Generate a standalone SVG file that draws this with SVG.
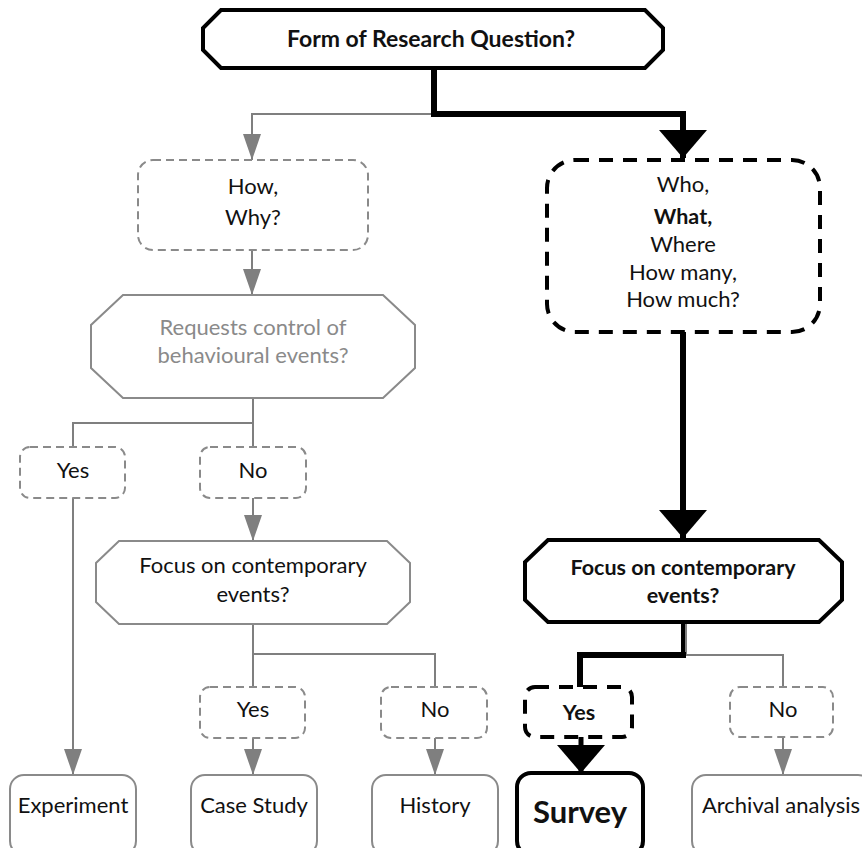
<svg xmlns="http://www.w3.org/2000/svg" width="862" height="848" viewBox="0 0 862 848">
  <defs>
    <marker id="arrowGray" markerUnits="userSpaceOnUse" markerWidth="26" markerHeight="18" viewBox="0 0 26 18" refX="26" refY="9" orient="auto">
      <path d="M0,0 L26,9 L0,18 Z" fill="#7f7f7f"/>
    </marker>
    <marker id="arrowBlack" markerUnits="userSpaceOnUse" markerWidth="28" markerHeight="48" viewBox="0 0 28 48" refX="28" refY="24" orient="auto">
      <path d="M0,0 L28,24 L0,48 Z" fill="#000"/>
    </marker>
  </defs>
  <style>
    text { font-family: Lato, "Open Sans", "Liberation Sans", sans-serif; font-size: 22px; fill: #111; text-anchor: middle; }
    .b { font-weight: bold; font-size: 21.5px; }
    .title { font-weight: bold; font-size: 23px; }
    .muted { fill: #8a8a8a; }
    .big { font-size: 31px; font-weight: bold; }
    .g-line { fill: none; stroke: #7f7f7f; stroke-width: 2; }
    .k-line { fill: none; stroke: #000; stroke-width: 6; }
    .g-dash { fill: #fff; stroke: #8a8a8a; stroke-width: 2; stroke-dasharray: 8 5; }
    .k-dash { fill: #fff; stroke: #000; stroke-width: 4; stroke-dasharray: 14 10; }
    .g-box { fill: #fff; stroke: #8a8a8a; stroke-width: 2; }
    .k-box { fill: #fff; stroke: #000; stroke-width: 4; }
  </style>
  <rect width="862" height="848" fill="#fff"/>

  <!-- connectors -->
  <g id="connectors">
    <path class="g-line" d="M434,114 H252 V160" marker-end="url(#arrowGray)"/>
    <path class="g-line" d="M252,250 V295" marker-end="url(#arrowGray)"/>
    <path class="g-line" d="M253,398 V447 M253,423 H73 V447"/>
    <path class="g-line" d="M73,498 V775" marker-end="url(#arrowGray)"/>
    <path class="g-line" d="M253,498 V541" marker-end="url(#arrowGray)"/>
    <path class="g-line" d="M253,624 V687 M253,654 H435 V687"/>
    <path class="g-line" d="M253,738 V775" marker-end="url(#arrowGray)"/>
    <path class="g-line" d="M435,738 V775" marker-end="url(#arrowGray)"/>
    <path class="g-line" d="M686,622 V655 H783 V687"/>
    <path class="g-line" d="M783,737 V775" marker-end="url(#arrowGray)"/>
    <path class="k-line" d="M434,68 V114 H683 V158" marker-end="url(#arrowBlack)"/>
    <path class="k-line" d="M683,332 V538" marker-end="url(#arrowBlack)"/>
    <path fill="none" stroke="#000" stroke-width="4" d="M683,622 V655"/>
    <path class="k-line" d="M686,655 H580 V687"/>
    <path fill="none" stroke="#000" stroke-width="5" d="M581,737 V773" marker-end="url(#arrowBlack)"/>
  </g>

  <g id="form-question">
    <path class="k-box" d="M221,10 H645 L663,28 V50 L645,68 H221 L203,50 V28 Z"/>
    <text class="title" x="431" y="47">Form of Research Question?</text>
  </g>

  <g id="how-why">
    <rect class="g-dash" x="138" y="160" width="230" height="90" rx="15"/>
    <text x="253" y="194">How,</text>
    <text x="253" y="225">Why?</text>
  </g>

  <g id="who-what">
    <rect class="k-dash" x="547" y="160" width="273" height="172" rx="28"/>
    <text x="683" y="192">Who,</text>
    <text class="b" x="683" y="224">What,</text>
    <text x="683" y="252">Where</text>
    <text x="683" y="280">How many,</text>
    <text x="683" y="307">How much?</text>
  </g>

  <g id="control-question">
    <path class="g-box" d="M123,295 H383 L415,325 V368 L383,398 H123 L91,368 V325 Z"/>
    <text class="muted" x="253" y="335">Requests control of</text>
    <text class="muted" x="253" y="363">behavioural events?</text>
  </g>

  <g id="control-yes">
    <rect class="g-dash" x="20" y="447" width="105" height="51" rx="10"/>
    <text x="73" y="478">Yes</text>
  </g>

  <g id="control-no">
    <rect class="g-dash" x="200" y="447" width="106" height="51" rx="10"/>
    <text x="253" y="478">No</text>
  </g>

  <g id="contemporary-left">
    <path class="g-box" d="M119,541 H387 L410,563 V602 L387,624 H119 L96,602 V563 Z"/>
    <text x="253" y="573">Focus on contemporary</text>
    <text x="253" y="602">events?</text>
  </g>

  <g id="contemporary-right">
    <path class="k-box" d="M548,540 H819 L842,562 V600 L819,622 H548 L525,600 V562 Z"/>
    <text class="b" x="683" y="575">Focus on contemporary</text>
    <text class="b" x="683" y="603">events?</text>
  </g>

  <g id="left-yes">
    <rect class="g-dash" x="200" y="687" width="105" height="51" rx="10"/>
    <text x="253" y="717">Yes</text>
  </g>

  <g id="left-no">
    <rect class="g-dash" x="381" y="687" width="106" height="51" rx="10"/>
    <text x="435" y="717">No</text>
  </g>

  <g id="right-yes">
    <rect class="k-dash" x="525" y="687" width="107" height="50" rx="10"/>
    <text class="b" x="579" y="720">Yes</text>
  </g>

  <g id="right-no">
    <rect class="g-dash" x="730" y="687" width="103" height="50" rx="10"/>
    <text x="783" y="717">No</text>
  </g>

  <g id="experiment">
    <rect class="g-box" x="10" y="775" width="126" height="80" rx="14"/>
    <text x="73" y="813">Experiment</text>
  </g>

  <g id="case-study">
    <rect class="g-box" x="191" y="775" width="126" height="80" rx="14"/>
    <text x="254" y="813">Case Study</text>
  </g>

  <g id="history">
    <rect class="g-box" x="372" y="775" width="126" height="80" rx="14"/>
    <text x="435" y="813">History</text>
  </g>

  <g id="survey">
    <rect class="k-box" x="517" y="773" width="126" height="82" rx="14"/>
    <text class="big" x="580" y="823">Survey</text>
  </g>

  <g id="archival">
    <rect class="g-box" x="692" y="775" width="180" height="80" rx="14"/>
    <text x="781" y="813">Archival analysis</text>
  </g>
</svg>
